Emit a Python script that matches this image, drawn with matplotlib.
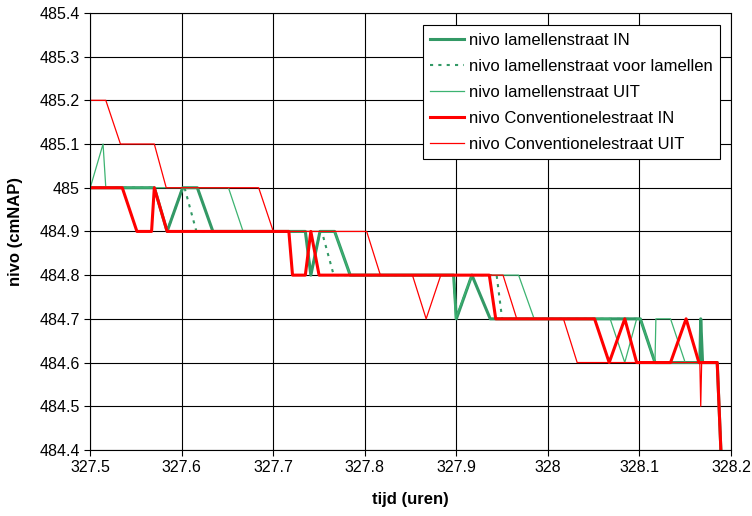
import matplotlib.pyplot as plt

plt.rcParams['font.family'] = ['Liberation Sans', 'DejaVu Sans']

# === Data (tijd in uren, nivo in cmNAP) ===
lam_in_t = [327.5, 327.570, 327.584, 327.601, 327.617, 327.634, 327.735, 327.741,
            327.751, 327.767, 327.784, 327.897, 327.900, 327.917, 327.937, 328.101,
            328.117, 328.166, 328.167, 328.169, 328.185, 328.189]
lam_in_y = [485.0, 485.0, 484.9, 485.0, 485.0, 484.9, 484.9, 484.8,
            484.9, 484.9, 484.8, 484.8, 484.7, 484.8, 484.7, 484.7,
            484.6, 484.6, 484.7, 484.6, 484.6, 484.4]

lam_voor_t = [327.5, 327.570, 327.584, 327.601, 327.603, 327.616, 327.735, 327.741,
              327.751, 327.753, 327.766, 327.897, 327.900, 327.917, 327.944, 327.950,
              328.101, 328.117, 328.185, 328.189]
lam_voor_y = [485.0, 485.0, 484.9, 485.0, 485.0, 484.9, 484.9, 484.8,
              484.9, 484.9, 484.8, 484.8, 484.7, 484.8, 484.8, 484.7,
              484.7, 484.6, 484.6, 484.4]

lam_uit_t = [327.5, 327.514, 327.517, 327.651, 327.667, 327.767, 327.784, 327.897,
             327.899, 327.917, 327.968, 327.985, 328.068, 328.084, 328.097, 328.101,
             328.117, 328.118, 328.134, 328.150, 328.185, 328.189]
lam_uit_y = [485.0, 485.1, 485.0, 485.0, 484.9, 484.9, 484.8, 484.8,
             484.7, 484.8, 484.8, 484.7, 484.7, 484.6, 484.7, 484.7,
             484.6, 484.7, 484.7, 484.6, 484.6, 484.4]

conv_in_t = [327.5, 327.535, 327.551, 327.567, 327.570, 327.584, 327.717, 327.721,
             327.735, 327.741, 327.750, 327.936, 327.943, 328.051, 328.067, 328.084,
             328.097, 328.134, 328.151, 328.165, 328.185, 328.189]
conv_in_y = [485.0, 485.0, 484.9, 484.9, 485.0, 484.9, 484.9, 484.8,
             484.8, 484.9, 484.8, 484.8, 484.7, 484.7, 484.6, 484.7,
             484.6, 484.6, 484.7, 484.6, 484.6, 484.4]

conv_uit_t = [327.5, 327.517, 327.533, 327.570, 327.583, 327.684, 327.700, 327.802,
              327.817, 327.852, 327.867, 327.883, 327.951, 327.966, 328.017, 328.032,
              328.166, 328.167, 328.168, 328.185, 328.189]
conv_uit_y = [485.2, 485.2, 485.1, 485.1, 485.0, 485.0, 484.9, 484.9,
              484.8, 484.8, 484.7, 484.8, 484.8, 484.7, 484.7, 484.6,
              484.6, 484.5, 484.6, 484.6, 484.4]

x_ticks = [327.5, 327.6, 327.7, 327.8, 327.9, 328.0, 328.1, 328.2]
x_labels = ["327.5", "327.6", "327.7", "327.8", "327.9", "328", "328.1", "328.2"]
y_ticks = [484.4, 484.5, 484.6, 484.7, 484.8, 484.9, 485.0, 485.1, 485.2, 485.3, 485.4]
y_labels = ["484.4", "484.5", "484.6", "484.7", "484.8", "484.9", "485",
            "485.1", "485.2", "485.3", "485.4"]

# === Plot ===
fig = plt.figure(figsize=(7.52, 5.16), dpi=100)
ax = fig.add_axes([0.120, 0.128, 0.852, 0.847])

ax.plot(lam_in_t, lam_in_y, color='#339966', lw=2.2, label='nivo lamellenstraat IN')
ax.plot(lam_voor_t, lam_voor_y, color='#339966', lw=1.5, ls=(0, (1.5, 2.5)),
        label='nivo lamellenstraat voor lamellen')
ax.plot(lam_uit_t, lam_uit_y, color='#3CB371', lw=0.9, label='nivo lamellenstraat UIT')
ax.plot(conv_in_t, conv_in_y, color='#FF0000', lw=2.2, label='nivo Conventionelestraat IN')
ax.plot(conv_uit_t, conv_uit_y, color='#FF0000', lw=0.9, label='nivo Conventionelestraat UIT')

ax.set_xlim(327.5, 328.2)
ax.set_ylim(484.4, 485.4)
ax.set_xticks(x_ticks)
ax.set_xticklabels(x_labels)
ax.set_yticks(y_ticks)
ax.set_yticklabels(y_labels)
ax.tick_params(labelsize=11.5, direction='out', length=4, color='black')
ax.grid(True, color='black', lw=0.8)
ax.set_axisbelow(True)
for s in ax.spines.values():
    s.set_color('black')
    s.set_linewidth(0.8)

ax.set_xlabel("tijd (uren)", fontsize=12, fontweight='bold', labelpad=12)
ax.set_ylabel("nivo (cmNAP)", fontsize=12, fontweight='bold', labelpad=12)

leg = ax.legend(loc='upper right', bbox_to_anchor=(0.983, 0.972), borderaxespad=0,
                fontsize=12, frameon=True, fancybox=False, framealpha=1,
                edgecolor='black', handlelength=2.0, handletextpad=0.3,
                labelspacing=0.66, borderpad=0.45)
leg.get_frame().set_linewidth(0.8)

fig.savefig('out.png', dpi=100)
